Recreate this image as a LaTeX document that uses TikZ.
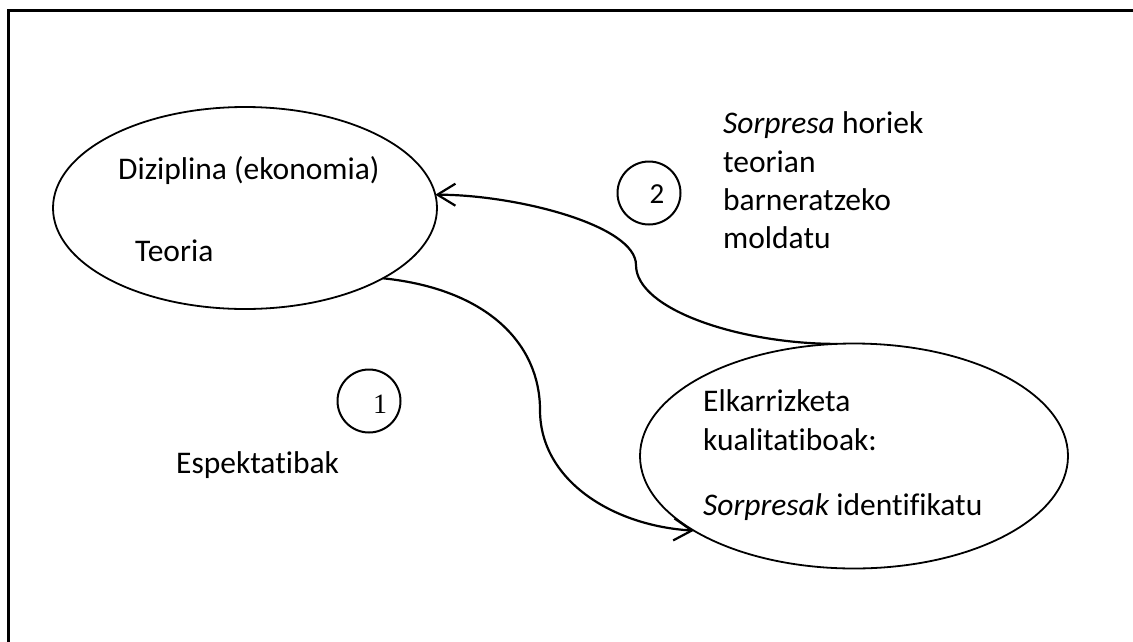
\documentclass[tikz,border=0pt]{standalone}
\usepackage{fontspec}
\setsansfont{Carlito}[Ligatures=NoCommon]
\newfontfamily\numfont{Liberation Serif}
\usetikzlibrary{positioning,shapes.geometric,arrows.meta}

\newcommand{\bodyfont}{\sffamily\fontsize{31.5}{38}\selectfont}

\begin{document}
\begin{tikzpicture}[x=1pt,y=-1pt,
    blob/.style={draw, ellipse, line width=1.8pt, inner sep=0pt, outer sep=0pt},
    ring/.style={draw, circle, line width=2pt, inner sep=0pt, outer sep=0pt, minimum size=63pt},
    txt/.style={anchor=base west, inner sep=0pt, font=\bodyfont},
    flow/.style={line width=2.2pt, -{Straight Barb[length=18pt,width=22pt]}}]
    \clip (0,0) rectangle (1133,641);
    \draw[line width=3pt] (8.5,10.5) rectangle (1160,670);

    \node[blob, minimum width=384pt, minimum height=202pt] (dizi) at (245,208) {};
    \node[blob, minimum width=428pt, minimum height=225pt] (elkar) at (854,456) {};
    \node[ring] (ring1) at (369,401) {};
    \node[ring] (ring2) at (649,193) {};

    \node[txt] (disc) at (118,179) {Diziplina (ekonomia)};
    \node[txt] (theo) at (135,261) {Teoria};
    \node[txt] (expect) at (176,473) {Espektatibak};
    \node[anchor=base, inner sep=0pt, font=\numfont\fontsize{28}{32}\selectfont] (one) at (380,413) {1};
    \node[anchor=base, inner sep=0pt, font=\sffamily\fontsize{29}{34}\selectfont] (two) at (657,203) {2};

    \node[txt] (adapt1) at (723,133) {\itshape Sorpresa\upshape{} horiek};
    \node[txt] (adapt2) at (723,172) {teorian};
    \node[txt] (adapt3) at (723,210) {barneratzeko};
    \node[txt] (adapt4) at (723,248) {moldatu};

    \node[txt] (intv1) at (703,411) {Elkarrizketa};
    \node[txt] (intv2) at (703,450) {kualitatiboak:};
    \node[txt] (intv3) at (703,515) {\itshape Sorpresak\upshape{} identifikatu};

    \coordinate (bend1) at (540,410);
    \coordinate (bend2) at (636,265);
    \draw[flow] (dizi.-27) .. controls +(106,11) and +(0,-65) .. (bend1)
        .. controls +(0,70) and +(-82,-5) .. (elkar.205);
    \draw[flow] (elkar.99.5) .. controls +(-95,0) and +(0,45) .. (bend2)
        .. controls +(0,-40) and +(80,0) .. (dizi.4);
\end{tikzpicture}
\end{document}
